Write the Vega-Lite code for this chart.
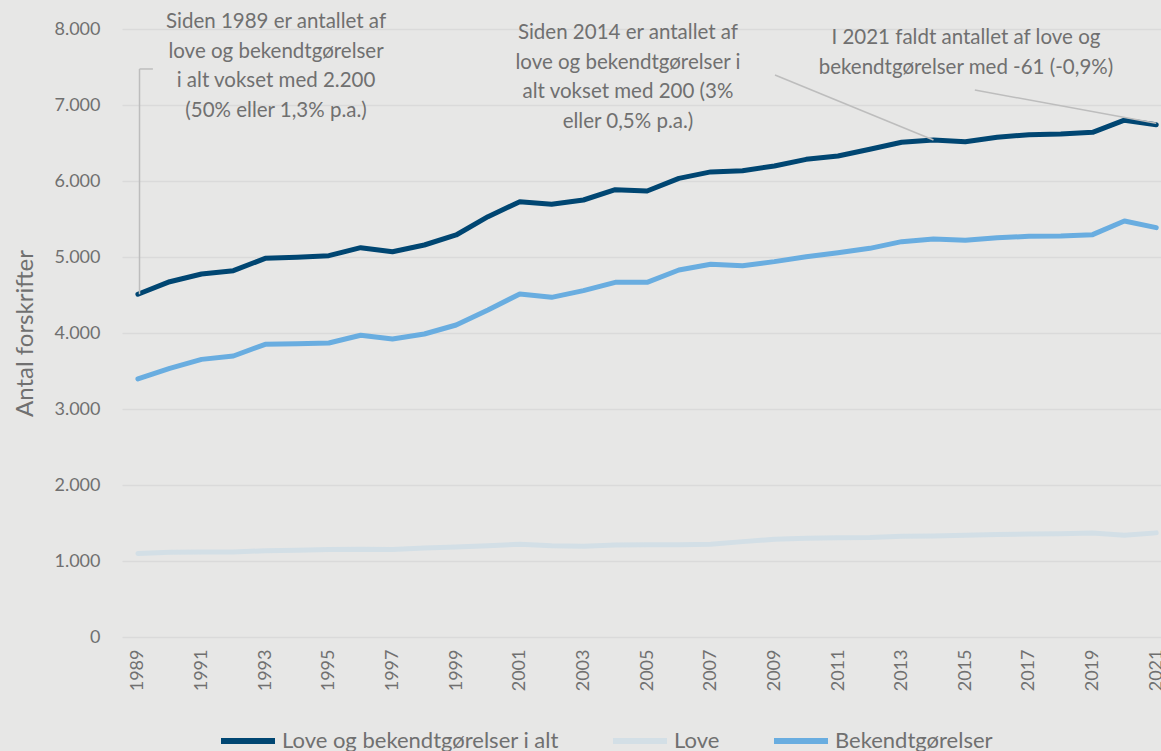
{
  "$schema": "https://vega.github.io/schema/vega-lite/v6.json",
  "width": 1039,
  "height": 608,
  "autosize": {"type": "none"},
  "padding": {"left": 122, "top": 29, "right": 0, "bottom": 114},
  "background": "#e7e7e6",
  "config": {
    "view": {"stroke": null},
    "font": "Lato",
    "axis": {"labelFont": "Lato", "titleFont": "Lato", "labelColor": "#707070", "titleColor": "#707070"},
    "legend": {"labelFont": "Lato"}
  },
  "datasets": {
    "series": [
      {"year": 1989, "serie": "Love og bekendtgørelser i alt", "value": 4510},
      {"year": 1990, "serie": "Love og bekendtgørelser i alt", "value": 4675},
      {"year": 1991, "serie": "Love og bekendtgørelser i alt", "value": 4776},
      {"year": 1992, "serie": "Love og bekendtgørelser i alt", "value": 4820},
      {"year": 1993, "serie": "Love og bekendtgørelser i alt", "value": 4982},
      {"year": 1994, "serie": "Love og bekendtgørelser i alt", "value": 4996},
      {"year": 1995, "serie": "Love og bekendtgørelser i alt", "value": 5018},
      {"year": 1996, "serie": "Love og bekendtgørelser i alt", "value": 5123},
      {"year": 1997, "serie": "Love og bekendtgørelser i alt", "value": 5070},
      {"year": 1998, "serie": "Love og bekendtgørelser i alt", "value": 5158},
      {"year": 1999, "serie": "Love og bekendtgørelser i alt", "value": 5290},
      {"year": 2000, "serie": "Love og bekendtgørelser i alt", "value": 5531},
      {"year": 2001, "serie": "Love og bekendtgørelser i alt", "value": 5728},
      {"year": 2002, "serie": "Love og bekendtgørelser i alt", "value": 5693},
      {"year": 2003, "serie": "Love og bekendtgørelser i alt", "value": 5750},
      {"year": 2004, "serie": "Love og bekendtgørelser i alt", "value": 5885},
      {"year": 2005, "serie": "Love og bekendtgørelser i alt", "value": 5868},
      {"year": 2006, "serie": "Love og bekendtgørelser i alt", "value": 6035},
      {"year": 2007, "serie": "Love og bekendtgørelser i alt", "value": 6120},
      {"year": 2008, "serie": "Love og bekendtgørelser i alt", "value": 6136},
      {"year": 2009, "serie": "Love og bekendtgørelser i alt", "value": 6197},
      {"year": 2010, "serie": "Love og bekendtgørelser i alt", "value": 6285},
      {"year": 2011, "serie": "Love og bekendtgørelser i alt", "value": 6329},
      {"year": 2012, "serie": "Love og bekendtgørelser i alt", "value": 6417},
      {"year": 2013, "serie": "Love og bekendtgørelser i alt", "value": 6509},
      {"year": 2014, "serie": "Love og bekendtgørelser i alt", "value": 6539},
      {"year": 2015, "serie": "Love og bekendtgørelser i alt", "value": 6517},
      {"year": 2016, "serie": "Love og bekendtgørelser i alt", "value": 6575},
      {"year": 2017, "serie": "Love og bekendtgørelser i alt", "value": 6609},
      {"year": 2018, "serie": "Love og bekendtgørelser i alt", "value": 6618},
      {"year": 2019, "serie": "Love og bekendtgørelser i alt", "value": 6640},
      {"year": 2020, "serie": "Love og bekendtgørelser i alt", "value": 6800},
      {"year": 2021, "serie": "Love og bekendtgørelser i alt", "value": 6739},
      {"year": 1989, "serie": "Love", "value": 1100},
      {"year": 1990, "serie": "Love", "value": 1115},
      {"year": 1991, "serie": "Love", "value": 1120},
      {"year": 1992, "serie": "Love", "value": 1120},
      {"year": 1993, "serie": "Love", "value": 1135},
      {"year": 1994, "serie": "Love", "value": 1140},
      {"year": 1995, "serie": "Love", "value": 1150},
      {"year": 1996, "serie": "Love", "value": 1155},
      {"year": 1997, "serie": "Love", "value": 1150},
      {"year": 1998, "serie": "Love", "value": 1170},
      {"year": 1999, "serie": "Love", "value": 1185},
      {"year": 2000, "serie": "Love", "value": 1200},
      {"year": 2001, "serie": "Love", "value": 1220},
      {"year": 2002, "serie": "Love", "value": 1200},
      {"year": 2003, "serie": "Love", "value": 1195},
      {"year": 2004, "serie": "Love", "value": 1210},
      {"year": 2005, "serie": "Love", "value": 1215},
      {"year": 2006, "serie": "Love", "value": 1215},
      {"year": 2007, "serie": "Love", "value": 1220},
      {"year": 2008, "serie": "Love", "value": 1255},
      {"year": 2009, "serie": "Love", "value": 1285},
      {"year": 2010, "serie": "Love", "value": 1298},
      {"year": 2011, "serie": "Love", "value": 1305},
      {"year": 2012, "serie": "Love", "value": 1310},
      {"year": 2013, "serie": "Love", "value": 1325},
      {"year": 2014, "serie": "Love", "value": 1330},
      {"year": 2015, "serie": "Love", "value": 1340},
      {"year": 2016, "serie": "Love", "value": 1348},
      {"year": 2017, "serie": "Love", "value": 1355},
      {"year": 2018, "serie": "Love", "value": 1360},
      {"year": 2019, "serie": "Love", "value": 1368},
      {"year": 2020, "serie": "Love", "value": 1340},
      {"year": 2021, "serie": "Love", "value": 1370},
      {"year": 1989, "serie": "Bekendtgørelser", "value": 3395},
      {"year": 1990, "serie": "Bekendtgørelser", "value": 3535},
      {"year": 1991, "serie": "Bekendtgørelser", "value": 3653},
      {"year": 1992, "serie": "Bekendtgørelser", "value": 3697},
      {"year": 1993, "serie": "Bekendtgørelser", "value": 3851},
      {"year": 1994, "serie": "Bekendtgørelser", "value": 3860},
      {"year": 1995, "serie": "Bekendtgørelser", "value": 3868},
      {"year": 1996, "serie": "Bekendtgørelser", "value": 3970},
      {"year": 1997, "serie": "Bekendtgørelser", "value": 3921},
      {"year": 1998, "serie": "Bekendtgørelser", "value": 3987},
      {"year": 1999, "serie": "Bekendtgørelser", "value": 4105},
      {"year": 2000, "serie": "Bekendtgørelser", "value": 4303},
      {"year": 2001, "serie": "Bekendtgørelser", "value": 4513},
      {"year": 2002, "serie": "Bekendtgørelser", "value": 4469},
      {"year": 2003, "serie": "Bekendtgørelser", "value": 4557},
      {"year": 2004, "serie": "Bekendtgørelser", "value": 4667},
      {"year": 2005, "serie": "Bekendtgørelser", "value": 4667},
      {"year": 2006, "serie": "Bekendtgørelser", "value": 4829},
      {"year": 2007, "serie": "Bekendtgørelser", "value": 4904},
      {"year": 2008, "serie": "Bekendtgørelser", "value": 4886},
      {"year": 2009, "serie": "Bekendtgørelser", "value": 4939},
      {"year": 2010, "serie": "Bekendtgørelser", "value": 5004},
      {"year": 2011, "serie": "Bekendtgørelser", "value": 5057},
      {"year": 2012, "serie": "Bekendtgørelser", "value": 5114},
      {"year": 2013, "serie": "Bekendtgørelser", "value": 5202},
      {"year": 2014, "serie": "Bekendtgørelser", "value": 5237},
      {"year": 2015, "serie": "Bekendtgørelser", "value": 5219},
      {"year": 2016, "serie": "Bekendtgørelser", "value": 5254},
      {"year": 2017, "serie": "Bekendtgørelser", "value": 5272},
      {"year": 2018, "serie": "Bekendtgørelser", "value": 5276},
      {"year": 2019, "serie": "Bekendtgørelser", "value": 5294},
      {"year": 2020, "serie": "Bekendtgørelser", "value": 5474},
      {"year": 2021, "serie": "Bekendtgørelser", "value": 5386}
    ],
    "leaders": [
      {"x": 1989.05, "y": 4510, "x2": 1989.05, "y2": 7474},
      {"x": 1989.05, "y": 7474, "x2": 1989.47, "y2": 7474},
      {"x": 2009.02, "y": 7395, "x2": 2014.0, "y2": 6539},
      {"x": 2015.3, "y": 7197, "x2": 2021.0, "y2": 6760}
    ],
    "notes": [
      {"x": 1993.34, "y": 8092, "label": "Siden 1989 er antallet af\nlove og bekendtgørelser\ni alt vokset med 2.200\n(50% eller 1,3% p.a.)"},
      {"x": 2004.4, "y": 7947, "label": "Siden 2014 er antallet af\nlove og bekendtgørelser i\nalt vokset med 200 (3%\neller 0,5% p.a.)"},
      {"x": 2015.02, "y": 7882, "label": "I 2021 faldt antallet af love og\nbekendtgørelser med -61 (-0,9%)"}
    ]
  },
  "layer": [
    {
      "data": {"name": "series"},
      "mark": {"type": "line", "strokeWidth": 5, "strokeCap": "round", "strokeJoin": "round"},
      "encoding": {
        "x": {
          "field": "year", "type": "quantitative",
          "scale": {"domain": [1988.5, 2021.15], "nice": false, "zero": false},
          "axis": {
            "values": [1989, 1991, 1993, 1995, 1997, 1999, 2001, 2003, 2005, 2007, 2009, 2011, 2013, 2015, 2017, 2019, 2021],
            "format": "d", "labelAngle": -90, "grid": false, "domain": false, "ticks": false, "tickSize": 0,
            "labelPadding": 12, "labelFontSize": 18, "title": null, "labelFlush": false, "labelOverlap": false
          }
        },
        "y": {
          "field": "value", "type": "quantitative",
          "scale": {"domain": [0, 8000], "nice": false},
          "axis": {
            "values": [0, 1000, 2000, 3000, 4000, 5000, 6000, 7000, 8000],
            "labelExpr": "replace(format(datum.value, ',d'), ',', '.')",
            "grid": true, "gridColor": "#dadada", "gridWidth": 1.5, "domain": false, "ticks": false, "tickSize": 0,
            "labelPadding": 22, "labelFontSize": 18, "title": "Antal forskrifter", "titleFontSize": 24,
            "titleFontWeight": "normal", "titlePadding": 16
          }
        },
        "color": {
          "field": "serie", "type": "nominal",
          "scale": {"domain": ["Love og bekendtgørelser i alt", "Love", "Bekendtgørelser"], "range": ["#004672", "#d3dfe6", "#69ade0"]},
          "legend": {
            "title": null, "orient": "none", "direction": "horizontal", "legendX": 96, "legendY": 682,
            "symbolType": "stroke", "symbolSize": 2916, "symbolStrokeWidth": 6, "labelFontSize": 22,
            "labelColor": "#707070", "columnPadding": 42, "labelOffset": 4, "padding": 0, "labelLimit": 500
          }
        }
      }
    },
    {
      "data": {"name": "leaders"},
      "mark": {"type": "rule", "color": "#bdbdbd", "strokeWidth": 1.5},
      "encoding": {
        "x": {"field": "x", "type": "quantitative"},
        "y": {"field": "y", "type": "quantitative"},
        "x2": {"field": "x2"},
        "y2": {"field": "y2"}
      }
    },
    {
      "data": {"name": "notes"},
      "mark": {"type": "text", "align": "center", "baseline": "middle", "lineBreak": "\n", "lineHeight": 29.7, "fontSize": 20.5, "color": "#707070"},
      "encoding": {
        "x": {"field": "x", "type": "quantitative"},
        "y": {"field": "y", "type": "quantitative"},
        "text": {"field": "label"}
      }
    }
  ]
}
